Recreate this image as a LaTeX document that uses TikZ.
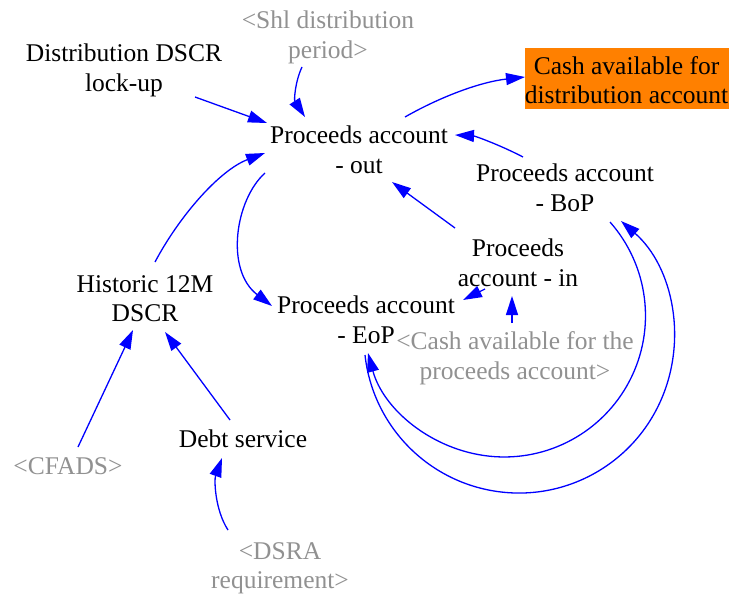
\documentclass[tikz,border=0pt]{standalone}
\usepackage{fontspec}
\setmainfont{Liberation Serif}
\newfontfamily\diagfont{Liberation Serif}
\usetikzlibrary{arrows.meta,calc}
\definecolor{lkblue}{RGB}{0,0,255}
\definecolor{shadow}{RGB}{145,145,145}
\definecolor{orangebox}{RGB}{255,128,0}
\begin{document}
\begin{tikzpicture}[x=1pt,y=-1pt,
  var/.style={align=center, inner sep=1pt, font=\diagfont\fontsize{25.5}{29.5}\selectfont,
    execute at begin node=\strut, execute at end node=\strut},
  shadowvar/.style={var, text=shadow},
  cashbox/.style={align=center, inner sep=0pt, fill=orangebox, minimum width=204pt,
    font=\diagfont\fontsize{25.5}{28.5}\selectfont},
  lk/.style={draw=lkblue, line width=1.3pt, -{Triangle[length=19pt,width=12pt]}}]
\useasboundingbox (0,0) rectangle (733,596);

% variables
\node[shadowvar] (shl) at (328,39) {<Shl distribution\\period>};
\node[var] (ddscr) at (124,72) {Distribution DSCR\\lock-up};
\node[cashbox] (cash) at (626.5,78.5) {\rule{0pt}{27pt}Cash available for\\distribution account\rule[-5.5pt]{0pt}{5.5pt}};
\node[var] (out) at (359,154) {Proceeds account\\- out};
\node[var] (bop) at (565,192) {Proceeds account\\- BoP};
\node[var] (pin) at (518,267) {Proceeds\\account - in};
\node[var] (hist) at (145,303) {Historic 12M\\DSCR};
\node[var] (eop) at (366,324) {Proceeds account\\- EoP};
\node[shadowvar] (cpa) at (515,360) {<Cash available for the\\proceeds account>};
\node[var] (debt) at (243,442) {Debt service};
\node[shadowvar] (cfads) at (68,469) {<CFADS>};
\node[shadowvar] (dsra) at (280,570) {<DSRA\\requirement>};

% links
\draw[lk] ($(shl)+(-26,28)$) .. controls (295,82) and (294,100) .. ($(out)+(-54,-37)$);
\draw[lk] ($(ddscr)+(71,25)$) -- ($(out)+(-92,-31)$);
\draw[lk] ($(out)+(46,-37)$) .. controls (440,97) and (480,82) .. ($(cash)+(-101.5,-1.5)$);
\draw[lk] ($(bop)+(-42,-35)$) .. controls (500,145) and (475,136) .. ($(out)+(96,-19)$);
\draw[lk] ($(pin)+(-63,-39)$) -- ($(out)+(33,28)$);
\draw[lk] ($(hist)+(10,-41)$) .. controls (180,215) and (220,170) .. ($(out)+(-94,-1)$);
\draw[lk] ($(out)+(-94,19)$) .. controls (235,200) and (225,270) .. ($(eop)+(-94,-18)$);
\draw[lk] ($(pin)+(-33,22)$) -- ($(eop)+(97,-24)$);
\draw[lk] ($(cpa)+(-3,-37)$) -- ($(pin)+(-6,29)$);
% BoP -> EoP (inner arc)
\draw[lk] ($(bop)+(45,30)$) .. controls (648.6,265.7) and (656.5,328.6) .. (629.8,380.4)
  .. controls (603.1,432.2) and (547.4,462.3) .. (489.5,456.2)
  .. controls (431.6,450.1) and (383.3,409.2) .. ($(eop)+(2,29)$);
% EoP -> BoP (outer arc)
\draw[lk] ($(eop)+(-1,31)$) .. controls (372.6,424.0) and (425.0,479.4) .. (493.4,490.9)
  .. controls (561.8,502.4) and (629.4,466.9) .. (659.1,404.2)
  .. controls (688.8,341.5) and (673.2,266.8) .. ($(bop)+(56,29)$);
\draw[lk] ($(cfads)+(10,-22)$) -- ($(hist)+(-12,27)$);
\draw[lk] ($(debt)+(-13,-22)$) -- ($(hist)+(20,29)$);
\draw[lk] ($(dsra)+(-52,-40)$) .. controls (215,510) and (214,480) .. ($(debt)+(-21,16)$);
\end{tikzpicture}
\end{document}
